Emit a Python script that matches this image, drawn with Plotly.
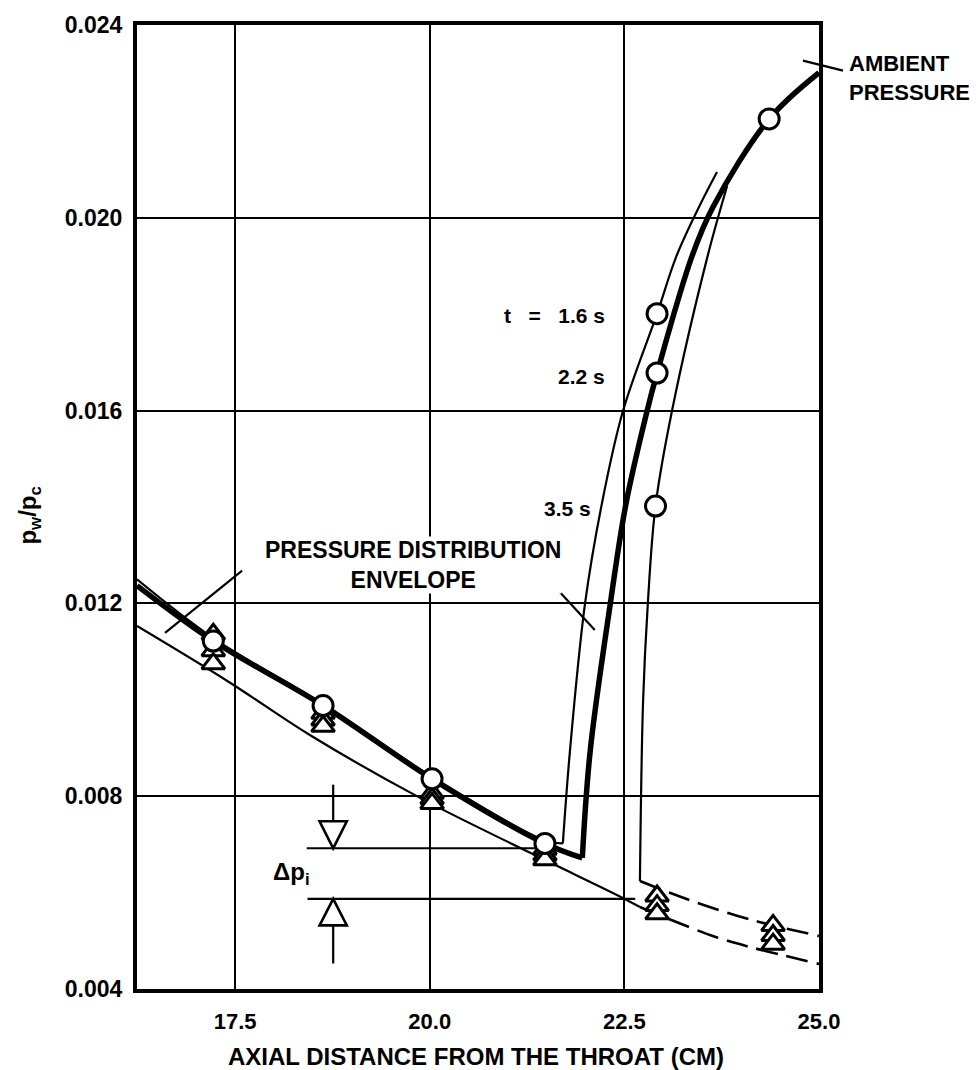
import plotly.graph_objects as go

FONT = "Liberation Sans, Arial, Helvetica, sans-serif"

# Axis ranges and ticks
x_range = [16.24, 25.0]
y_range = [0.004, 0.024]
x_ticks = [17.5, 20.0, 22.5, 25.0]
x_tick_text = ["17.5", "20.0", "22.5", "25.0"]
y_ticks = [0.004, 0.008, 0.012, 0.016, 0.020, 0.024]
y_tick_text = ["0.004", "0.008", "0.012", "0.016", "0.020", "0.024"]

# t = 2.2 s wall-pressure profile (heavy line): attached part, then rise after separation
t22_attached_x = [16.24, 17.22, 18.63, 20.03, 21.48, 21.96]
t22_attached_y = [0.01237, 0.01122, 0.00988, 0.00836, 0.00702, 0.00672]
t22_rise_x = [21.96, 22.06, 22.32, 22.52, 22.79, 22.92, 23.37, 23.64, 24.36, 25.0]
t22_rise_y = [0.00672, 0.00892, 0.01200, 0.01406, 0.01598, 0.01678, 0.01921, 0.02023, 0.02205, 0.02301]

# t = 1.6 s profile
t16_attached_x = [16.24, 17.22, 18.63, 20.03, 21.48, 21.71]
t16_attached_y = [0.01250, 0.01128, 0.00991, 0.00840, 0.00708, 0.00702]
t16_rise_x = [21.71, 21.80, 21.995, 22.21, 22.48, 22.92, 23.17, 23.46, 23.69]
t16_rise_y = [0.00702, 0.00892, 0.01200, 0.01406, 0.01598, 0.01801, 0.01921, 0.02023, 0.02095]

# t = 3.5 s profile: rise at separation point, dashed attached continuation
t35_rise_x = [22.70, 22.74, 22.80, 22.90, 23.11, 23.57, 23.82]
t35_rise_y = [0.00624, 0.00995, 0.01196, 0.01402, 0.01598, 0.01921, 0.02066]
t35_tail_x = [22.70, 23.11, 23.47, 24.14, 25.0]
t35_tail_y = [0.00624, 0.00598, 0.00577, 0.00543, 0.00510]

# Lower bound of the pressure distribution envelope
env_x = [16.24, 17.43, 18.46, 19.87, 21.31, 22.48, 22.70]
env_y = [0.01153, 0.01036, 0.00927, 0.00797, 0.00681, 0.00589, 0.00570]
env_tail_x = [22.70, 23.12, 23.69, 24.14, 25.0]
env_tail_y = [0.00570, 0.00542, 0.00507, 0.00486, 0.00452]

# Measured points: circles (separated runs) and triangles (attached-flow runs)
circ_x = [17.22, 18.63, 20.03, 21.48, 22.92, 22.92, 22.90, 24.36]
circ_y = [0.01122, 0.00988, 0.00836, 0.00702, 0.01801, 0.01678, 0.01402, 0.02205]

tri_x = [17.22, 18.63, 20.03, 21.48, 22.92, 24.41]
tri_a = [0.01136, 0.00972, 0.00806, 0.00690, 0.00593, 0.00532]
tri_b = [0.01102, 0.00958, 0.00795, 0.00678, 0.00573, 0.00511]
tri_c = [0.01075, 0.00945, 0.00785, 0.00668, 0.00556, 0.00493]

fig = go.Figure()


def curve(x, y, width, dash="solid"):
    fig.add_trace(go.Scatter(
        x=x, y=y, mode="lines",
        line=dict(color="black", width=width, shape="spline", smoothing=1.0, dash=dash),
        hoverinfo="skip",
    ))


curve(env_x, env_y, 2.2)
curve(env_tail_x, env_tail_y, 2.6, dash="22px,9px")
curve(t35_rise_x, t35_rise_y, 2.2)
curve(t35_tail_x, t35_tail_y, 2.6, dash="22px,9px")
curve(t16_attached_x, t16_attached_y, 2.2)
curve(t16_rise_x, t16_rise_y, 2.2)
curve(t22_attached_x, t22_attached_y, 5.5)
curve(t22_rise_x, t22_rise_y, 5.5)

for ty in (tri_a, tri_b, tri_c):
    fig.add_trace(go.Scatter(
        x=tri_x, y=ty, mode="markers",
        marker=dict(symbol="triangle-up", size=20, color="white",
                    line=dict(color="black", width=3)),
        hoverinfo="skip",
    ))

fig.add_trace(go.Scatter(
    x=circ_x, y=circ_y, mode="markers",
    marker=dict(symbol="circle", size=20, color="white",
                line=dict(color="black", width=3)),
    hoverinfo="skip",
))

shapes = []


def seg(x0, y0, x1, y1, width=2.2, ref="data"):
    d = dict(type="line", x0=x0, y0=y0, x1=x1, y1=y1,
             line=dict(color="black", width=width))
    if ref == "paper":
        d.update(xref="paper", yref="paper")
    else:
        d.update(xref="x", yref="y")
    shapes.append(d)


# Delta p_i bracket
seg(18.42, 0.00692, 21.35, 0.00692)
seg(18.43, 0.00587, 22.64, 0.00587)
seg(18.76, 0.00824, 18.76, 0.00748)
seg(18.76, 0.00532, 18.76, 0.00453)
shapes.append(dict(type="path", xref="x", yref="y",
                   path="M 18.585,0.00748 L 18.935,0.00748 L 18.76,0.00692 Z",
                   fillcolor="white", line=dict(color="black", width=2.6)))
shapes.append(dict(type="path", xref="x", yref="y",
                   path="M 18.585,0.00532 L 18.935,0.00532 L 18.76,0.00587 Z",
                   fillcolor="white", line=dict(color="black", width=2.6)))

# Leader lines
seg(17.59, 0.01268, 16.60, 0.01139)
seg(21.45, 0.01262, 22.12, 0.01145)
seg(0.9765, 0.963, 1.0352, 0.9527, ref="paper")

bold = dict(family=FONT, color="black", weight="bold")

annotations = [
    dict(x=22.28, y=0.01797, xref="x", yref="y", xanchor="right", yanchor="middle",
         text="t&nbsp;&nbsp;&nbsp;=&nbsp;&nbsp;&nbsp;1.6 s", showarrow=False,
         font=dict(bold, size=21)),
    dict(x=22.28, y=0.01670, xref="x", yref="y", xanchor="right", yanchor="middle",
         text="2.2 s", showarrow=False, font=dict(bold, size=21)),
    dict(x=22.10, y=0.01396, xref="x", yref="y", xanchor="right", yanchor="middle",
         text="3.5 s", showarrow=False, font=dict(bold, size=21)),
    dict(x=19.79, y=0.01279, xref="x", yref="y", xanchor="center", yanchor="middle",
         text="PRESSURE DISTRIBUTION<br>ENVELOPE", showarrow=False, align="center",
         bgcolor="white", borderpad=0, font=dict(bold, size=23)),
    dict(x=18.22, y=0.00639, xref="x", yref="y", xanchor="center", yanchor="middle",
         text="\u0394p<sub>i</sub>", showarrow=False, font=dict(bold, size=24)),
    dict(x=1.041, y=0.945, xref="paper", yref="paper", xanchor="left", yanchor="middle",
         text="AMBIENT<br>PRESSURE", showarrow=False, align="left",
         font=dict(bold, size=22)),
    dict(x=0.497, y=-0.070, xref="paper", yref="paper", xanchor="center", yanchor="middle",
         text="AXIAL DISTANCE FROM THE THROAT (CM)", showarrow=False,
         font=dict(bold, size=24)),
    dict(x=-0.157, y=0.491, xref="paper", yref="paper", xanchor="center", yanchor="middle",
         text="p<sub>w</sub>/p<sub>c</sub>", textangle=-90, showarrow=False,
         font=dict(bold, size=24)),
]

fig.update_layout(
    width=978, height=1070,
    margin=dict(l=137, r=159, t=17, b=81, pad=0),
    plot_bgcolor="white", paper_bgcolor="white",
    showlegend=False,
    shapes=shapes,
    annotations=annotations,
    xaxis=dict(range=x_range, tickvals=x_ticks, ticktext=x_tick_text,
               showgrid=True, gridcolor="black", gridwidth=2,
               showline=True, linecolor="black", linewidth=4, mirror=True,
               zeroline=False, ticks="", ticklabelstandoff=10,
               tickfont=dict(bold, size=22)),
    yaxis=dict(range=y_range, tickvals=y_ticks, ticktext=y_tick_text,
               showgrid=True, gridcolor="black", gridwidth=2,
               showline=True, linecolor="black", linewidth=4, mirror=True,
               zeroline=False, ticks="", ticklabelstandoff=6,
               tickfont=dict(bold, size=23)),
)

fig.write_html("out.html")
